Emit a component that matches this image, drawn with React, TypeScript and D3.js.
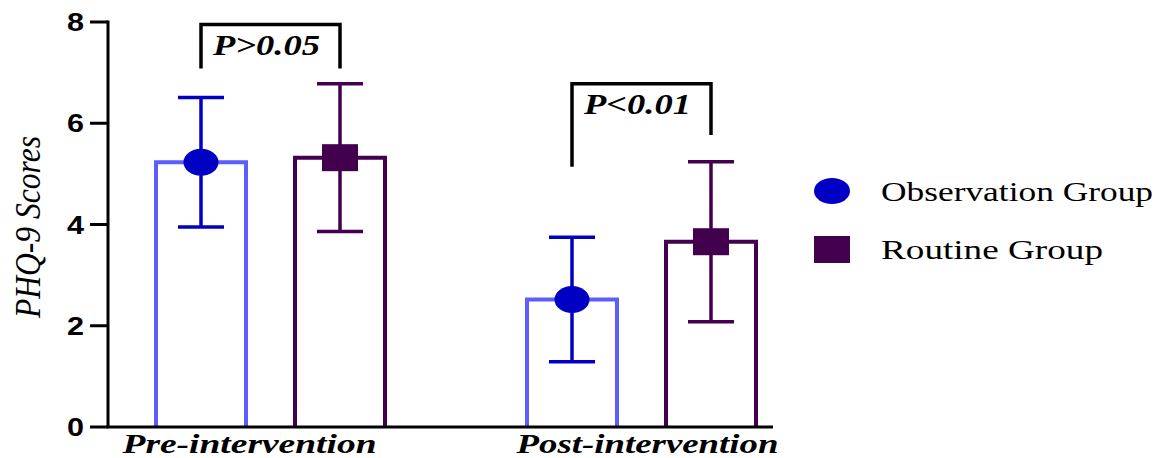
import React from "react";
import * as d3 from "d3";

const categories = ["Pre-intervention", "Post-intervention"];
const seriesNames = ["Observation Group", "Routine Group"];
const obsMean = [5.23, 2.52];
const obsSD = [1.28, 1.23];
const routMean = [5.32, 3.66];
const routSD = [1.46, 1.58];
const yTicks = [0, 2, 4, 6, 8];
const bracketLabels = ["P>0.05", "P<0.01"];
const bracketTop = [7.95, 6.78];
const bracketLeftEnd = [7.08, 5.14];
const bracketRightEnd = [7.08, 5.77];

const W = 1166;
const H = 458;
const serif = "'Liberation Serif', 'Times New Roman', serif";
const sans = "'Liberation Sans', Arial, sans-serif";

const OBS_BAR = "#5c5cff";
const OBS_DARK = "#0000c4";
const ROUT = "#42004f";

export default function App() {
  const y = d3.scaleLinear().domain([0, 8]).range([427, 22]);
  const x = d3.scalePoint<string>().domain(categories).range([270.5, 641.5]);
  const xs = d3.scalePoint<string>().domain(seriesNames).range([-69.5, 69.5]);
  const barW = 90;
  const capW = 46;

  const series = [
    { name: seriesNames[0], mean: obsMean, sd: obsSD, bar: OBS_BAR, dark: OBS_DARK, shape: "circle" },
    { name: seriesNames[1], mean: routMean, sd: routSD, bar: ROUT, dark: ROUT, shape: "square" },
  ];

  const xAxisEnd = 773;

  return (
    <svg width={W} height={H} style={{ position: "absolute", left: 0, top: 0, background: "#fff" }}>
      <rect x={0} y={0} width={W} height={H} fill="#fff" />
      {series.map((s) =>
        categories.map((c, i) => {
          const cx = (x(c) as number) + (xs(s.name) as number);
          const top = y(s.mean[i]);
          return (
            <path
              key={s.name + c}
              d={`M${cx - barW / 2},${y(0)} V${top} H${cx + barW / 2} V${y(0)}`}
              fill="#fff"
              stroke={s.bar}
              strokeWidth={4}
            />
          );
        })
      )}
      {series.map((s) =>
        categories.map((c, i) => {
          const cx = (x(c) as number) + (xs(s.name) as number);
          const hi = y(s.mean[i] + s.sd[i]);
          const lo = y(s.mean[i] - s.sd[i]);
          const m = y(s.mean[i]);
          return (
            <g key={"e" + s.name + c} stroke={s.dark} strokeWidth={3.5}>
              <line x1={cx} x2={cx} y1={hi} y2={lo} />
              <line x1={cx - capW / 2} x2={cx + capW / 2} y1={hi} y2={hi} />
              <line x1={cx - capW / 2} x2={cx + capW / 2} y1={lo} y2={lo} />
              {s.shape === "circle" ? (
                <ellipse cx={cx} cy={m} rx={17.5} ry={13.5} fill={s.dark} stroke="none" />
              ) : (
                <rect x={cx - 18} y={m - 13.5} width={36} height={27} fill={s.dark} stroke="none" />
              )}
            </g>
          );
        })
      )}
      <line x1={108} x2={108} y1={y(8) - 1.5} y2={y(0)} stroke="#000" strokeWidth={3} />
      <line x1={106.5} x2={xAxisEnd} y1={y(0)} y2={y(0)} stroke="#000" strokeWidth={3} />
      {yTicks.map((t) => (
        <g key={t}>
          <line x1={90} x2={108} y1={y(t)} y2={y(t)} stroke="#000" strokeWidth={3} />
          <text
            x={67}
            y={y(t) + 9}
            fontFamily={sans}
            fontWeight="bold"
            fontSize={25}
            textLength={17}
            lengthAdjust="spacingAndGlyphs"
            fill="#000"
          >
            {t}
          </text>
        </g>
      ))}
      <text
        transform={`translate(40, 227) rotate(-90)`}
        textAnchor="middle"
        fontFamily={serif}
        fontStyle="italic"
        fontSize={35}
        textLength={182}
        lengthAdjust="spacingAndGlyphs"
        fill="#000"
      >
        PHQ-9 Scores
      </text>
      {categories.map((c, i) => (
        <text
          key={c}
          x={(x(c) as number) - 148 + i * 23}
          y={453}
          fontFamily={serif}
          fontStyle="italic"
          fontWeight="bold"
          fontSize={27}
          textLength={i === 0 ? 254 : 262}
          lengthAdjust="spacingAndGlyphs"
          fill="#000"
        >
          {c}
        </text>
      ))}
      {categories.map((c, i) => {
        const lx = (x(c) as number) + (xs(seriesNames[0]) as number);
        const rx = (x(c) as number) + (xs(seriesNames[1]) as number);
        const ty = y(bracketTop[i]);
        return (
          <g key={"b" + c}>
            <path
              d={`M${lx},${y(bracketLeftEnd[i])} V${ty} H${rx} V${y(bracketRightEnd[i])}`}
              fill="none"
              stroke="#000"
              strokeWidth={3.5}
            />
            <text
              x={lx + 12}
              y={ty + 30}
              fontFamily={serif}
              fontStyle="italic"
              fontWeight="bold"
              fontSize={29}
              textLength={107}
              lengthAdjust="spacingAndGlyphs"
              fill="#000"
            >
              {bracketLabels[i]}
            </text>
          </g>
        );
      })}
      <ellipse cx={832} cy={191} rx={18} ry={13} fill={OBS_DARK} />
      <text
        x={881}
        y={201}
        fontFamily={serif}
        fontSize={28}
        textLength={272}
        lengthAdjust="spacingAndGlyphs"
        fill="#000"
      >
        {seriesNames[0]}
      </text>
      <rect x={814} y={236} width={36} height={27} fill={ROUT} />
      <text
        x={881}
        y={259}
        fontFamily={serif}
        fontSize={28}
        textLength={222}
        lengthAdjust="spacingAndGlyphs"
        fill="#000"
      >
        {seriesNames[1]}
      </text>
    </svg>
  );
}
